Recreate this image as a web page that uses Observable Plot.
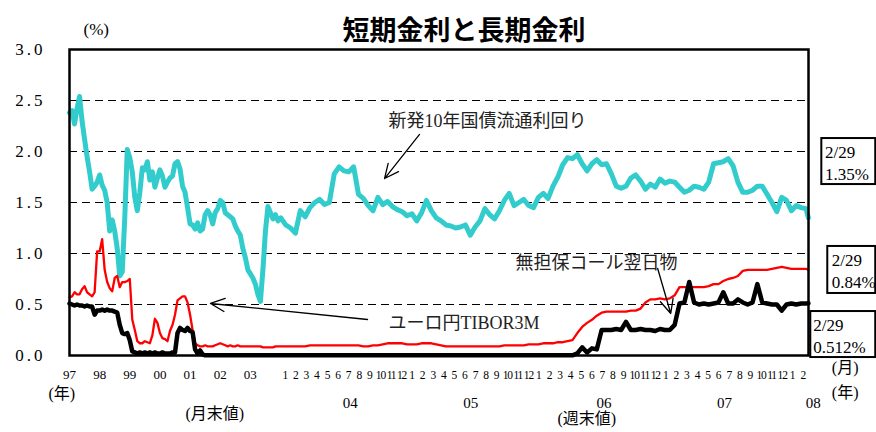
<!DOCTYPE html>
<html><head><meta charset="utf-8">
<script src="https://cdn.jsdelivr.net/npm/d3@7"></script>
<script src="https://cdn.jsdelivr.net/npm/@observablehq/plot@0.6"></script>
<style>body{margin:0;background:#fff}</style>
</head><body><div id="chart"></div>
<script>
// ---- Month-end values, Jan 1997 .. Dec 2003 (%) ----
const monthlyJGB = [
2.38,2.40,2.27,2.42,2.54,2.30,2.12,1.95,1.80,1.63,
1.66,1.70,1.77,1.67,1.62,1.50,1.22,1.33,1.22,1.05,
0.78,0.82,1.35,2.02,1.94,1.80,1.55,1.42,1.60,1.84,
1.82,1.90,1.72,1.80,1.65,1.74,1.82,1.76,1.65,1.70,
1.74,1.76,1.88,1.90,1.83,1.66,1.60,1.45,1.29,1.28,
1.24,1.30,1.22,1.24,1.38,1.42,1.38,1.29,1.40,1.44,
1.52,1.50,1.40,1.38,1.36,1.34,1.27,1.22,1.18,1.05,
0.96,0.84,0.80,0.76,0.70,0.60,0.53,0.84,1.22,1.46,
1.40,1.34,1.38,1.32];
const monthlyTIBOR = [
0.57,0.58,0.62,0.60,0.60,0.65,0.68,0.62,0.60,0.58,
0.62,1.02,1.02,1.14,0.84,0.72,0.66,0.63,0.76,0.78,
0.67,0.72,0.72,0.73,0.75,0.35,0.25,0.14,0.12,0.12,
0.14,0.13,0.12,0.20,0.36,0.32,0.22,0.17,0.16,0.14,
0.24,0.30,0.40,0.54,0.56,0.58,0.58,0.52,0.40,0.25,
0.12,0.10,0.09,0.09,0.10,0.09,0.09,0.09,0.10,0.11,
0.12,0.11,0.10,0.09,0.10,0.09,0.09,0.10,0.09,0.09,
0.09,0.09,0.09,0.09,0.09,0.09,0.09,0.08,0.08,0.08,
0.08,0.08,0.09,0.09];
const monthlyCall = [
0.51,0.50,0.49,0.50,0.49,0.49,0.48,0.49,0.48,0.48,
0.40,0.44,0.44,0.45,0.44,0.45,0.44,0.44,0.43,0.42,
0.30,0.22,0.21,0.22,0.15,0.04,0.03,0.02,0.03,0.02,
0.03,0.02,0.03,0.02,0.03,0.02,0.02,0.03,0.02,0.02,
0.02,0.03,0.03,0.22,0.27,0.25,0.24,0.27,0.24,0.23,
0.06,0.02,0.05,0.01,0.002,0.002,0.002,0.002,0.002,0.002,
0.002,0.002,0.002,0.002,0.002,0.002,0.002,0.002,0.002,0.002,
0.002,0.002,0.002,0.002,0.002,0.002,0.002,0.002,0.002,0.002,
0.002,0.002,0.002,0.002];

// ---- Week-end values every two weeks from 2 Jan 2004, last value 29 Feb 2008 (%) ----
const weeklyJGB = [
1.35,1.28,1.25,1.20,1.42,1.36,1.45,1.50,1.53,1.48,
1.50,1.78,1.85,1.81,1.80,1.85,1.58,1.54,1.47,1.42,
1.55,1.48,1.51,1.46,1.43,1.41,1.37,1.39,1.32,1.40,
1.52,1.42,1.35,1.32,1.28,1.27,1.25,1.26,1.28,1.18,
1.26,1.32,1.44,1.38,1.34,1.42,1.52,1.59,1.47,1.50,
1.53,1.47,1.45,1.55,1.59,1.54,1.66,1.75,1.87,1.94,
1.93,1.97,1.88,1.81,1.88,1.92,1.87,1.88,1.78,1.66,
1.64,1.66,1.74,1.77,1.71,1.63,1.68,1.65,1.73,1.69,
1.71,1.70,1.65,1.60,1.62,1.66,1.65,1.63,1.70,1.88,
1.89,1.90,1.93,1.86,1.70,1.60,1.60,1.62,1.66,1.66,
1.58,1.50,1.41,1.55,1.52,1.42,1.47,1.45,1.44,
1.35];
const weeklyTIBOR = [
0.09,0.09,0.09,0.09,0.09,0.09,0.10,0.10,0.10,0.10,
0.10,0.10,0.10,0.10,0.10,0.10,0.10,0.09,0.09,0.10,
0.10,0.11,0.12,0.12,0.12,0.12,0.11,0.11,0.11,0.12,
0.12,0.12,0.11,0.10,0.09,0.09,0.09,0.09,0.09,0.09,
0.09,0.09,0.09,0.09,0.09,0.09,0.10,0.10,0.10,0.10,
0.10,0.11,0.11,0.11,0.12,0.12,0.12,0.13,0.13,0.14,
0.15,0.22,0.28,0.32,0.35,0.39,0.42,0.43,0.43,0.43,
0.43,0.43,0.44,0.44,0.46,0.52,0.55,0.55,0.56,0.55,
0.56,0.59,0.67,0.67,0.67,0.67,0.67,0.67,0.68,0.70,
0.70,0.73,0.75,0.76,0.78,0.83,0.84,0.84,0.84,0.84,
0.84,0.85,0.86,0.87,0.86,0.85,0.85,0.85,0.85,
0.84];
const weeklyCall = [
0.002,0.002,0.002,0.002,0.002,0.002,0.002,0.002,0.002,0.002,
0.002,0.002,0.002,0.002,0.002,0.002,0.002,0.002,0.002,0.002,
0.002,0.002,0.002,0.002,0.002,0.002,0.002,0.002,0.002,0.002,
0.002,0.002,0.002,0.002,0.002,0.002,0.002,0.002,0.002,0.002,
0.002,0.002,0.002,0.002,0.002,0.002,0.002,0.002,0.002,0.002,
0.002,0.002,0.002,0.002,0.002,0.002,0.002,0.002,0.002,0.002,
0.002,0.02,0.08,0.03,0.07,0.06,0.25,0.25,0.25,0.26,
0.25,0.33,0.25,0.25,0.26,0.25,0.25,0.24,0.26,0.25,
0.25,0.30,0.51,0.52,0.72,0.52,0.50,0.51,0.50,0.51,
0.52,0.62,0.51,0.51,0.55,0.52,0.50,0.52,0.70,0.52,
0.51,0.50,0.50,0.44,0.50,0.51,0.50,0.51,0.51,
0.512];

// ---- Tick labels ----
const yTickValues = [0, 0.5, 1.0, 1.5, 2.0, 2.5, 3.0];
const gridValues = [0.5, 1.0, 1.5, 2.0, 2.5];
const monthlyYearLabels = ["97","98","99","00","01","02","03"];
const monthLabels = ["1","2","3","4","5","6","7","8","9","10","11","12"];
const weeklyYears = [2004, 2005, 2006, 2007, 2008];
const weeklyYearLabels = ["04","05","06","07","08"];
const weeklyYearPos = [2004.55, 2005.5, 2006.55, 2007.5, 2008.2];

// ---- Annotations ----
const seriesLabels = [
  {t: 2004.852, v: 2.294, text: "新発10年国債流通利回り"},
  {t: 2004.852, v: 0.314, text: "ユーロ円TIBOR3M"},
  {t: 2005.853, v: 0.902, text: "無担保コール翌日物"}
];
const arrows = [
  {x1: 2005.096, y1: 2.167, x2: 2004.820, y2: 1.735},
  {x1: 2004.686, y1: 0.353, x2: 2001.678, y2: 0.510},
  {x1: 2006.973, y1: 0.853, x2: 2007.076, y2: 0.412}
];
const lastBoxes = [
  {x1: 2008.267, x2: 2008.692, y1: 2.127, y2: 1.676, tx: 2008.292, label: "2/29\n1.35%"},
  {x1: 2008.314, x2: 2008.692, y1: 1.069, y2: 0.608, tx: 2008.345, label: "2/29\n0.84%"},
  {x1: 2008.180, x2: 2008.692, y1: 0.431, y2: -0.020, tx: 2008.200, label: "2/29\n0.512%"}
];

// ---- Build series ----
const weekStart = Date.UTC(2004, 0, 2);
const lastDay = Date.UTC(2008, 1, 29);
function yearFrac(ms) {
  const y = new Date(ms).getUTCFullYear();
  const s = Date.UTC(y, 0, 1), e = Date.UTC(y + 1, 0, 1);
  return y + (ms - s) / (e - s);
}
function build(monthly, weekly) {
  const out = monthly.map((v, i) => ({t: 1997 + i / 12, v}));
  weekly.forEach((v, k) => {
    const ms = k === weekly.length - 1 ? lastDay : weekStart + k * 14 * 86400000;
    out.push({t: yearFrac(ms), v});
  });
  return out;
}
const jgb = build(monthlyJGB, weeklyJGB);
const tibor = build(monthlyTIBOR, weeklyTIBOR);
const call = build(monthlyCall, weeklyCall);

const monthTicks = weeklyYears.flatMap(y =>
  monthLabels.slice(0, y === 2008 ? 2 : 12).map((m, i) => ({t: y + (i + 0.45) / 12, label: m})));

const serif = "'Liberation Serif', 'Noto Sans CJK JP', serif";
const jp = "'Liberation Serif', 'Noto Sans CJK JP', sans-serif";

const chart = Plot.plot({
  width: 876, height: 432,
  marginLeft: 69, marginRight: 68, marginTop: 49, marginBottom: 77,
  style: {fontFamily: serif, background: "#fff", overflow: "visible"},
  x: {type: "linear", domain: [1997, 2004, 2008.162], range: [69, 280, 808], axis: null},
  y: {domain: [0, 3], axis: null},
  marks: [
    Plot.ruleY(gridValues, {stroke: "#000", strokeWidth: 1, strokeDasharray: "8,5"}),
    Plot.line(jgb, {x: "t", y: "v", stroke: "#33CCCC", strokeWidth: 5}),
    Plot.line(tibor, {x: "t", y: "v", stroke: "#FF0000", strokeWidth: 2.3}),
    Plot.line(call, {x: "t", y: "v", stroke: "#000", strokeWidth: 4.5}),
    Plot.frame({stroke: "#000", strokeWidth: 2.5}),
    // y tick labels
    Plot.text(yTickValues, {y: d => d, text: d => d.toFixed(1), frameAnchor: "left", dx: -24, textAnchor: "end", fontSize: 17, fill: "#000"}),
    Plot.text(["(%)"], {text: d => d, frameAnchor: "top-left", dx: 14, dy: -27, fontSize: 17}),
    // title
    Plot.text(["短期金利と長期金利"], {text: d => d, frameAnchor: "top", dx: 25, dy: -29, fontSize: 27, fontWeight: "bold", fontFamily: "'Noto Sans CJK JP', sans-serif"}),
    // x labels
    Plot.text(monthlyYearLabels, {x: (d, i) => 1997 + i, text: d => d, frameAnchor: "bottom", dy: 23, fontSize: 13}),
    Plot.text(monthTicks, {x: "t", text: "label", frameAnchor: "bottom", dy: 23, fontSize: 11.5}),
    Plot.text(weeklyYearLabels, {x: (d, i) => weeklyYearPos[i], text: d => d, frameAnchor: "bottom", dy: 52, fontSize: 15}),
    Plot.text(["(年)"], {text: d => d, frameAnchor: "bottom-left", dx: -21, dy: 43, fontSize: 16, fontFamily: jp}),
    Plot.text(["(月末値)"], {text: d => d, frameAnchor: "bottom-left", dx: 116, dy: 63, fontSize: 16, fontFamily: jp}),
    Plot.text(["(週末値)"], {text: d => d, frameAnchor: "bottom-left", dx: 488, dy: 68, fontSize: 16, fontFamily: jp}),
    Plot.text(["(月)"], {text: d => d, frameAnchor: "bottom-right", dx: 50, dy: 17, fontSize: 16, fontFamily: jp}),
    Plot.text(["(年)"], {text: d => d, frameAnchor: "bottom-right", dx: 50, dy: 42, fontSize: 16, fontFamily: jp}),
    // series annotations
    Plot.text(seriesLabels, {x: "t", y: "v", text: "text", textAnchor: "start", fontSize: 18, fill: "#222", fontFamily: jp}),
    Plot.arrow(arrows, {x1: "x1", y1: "y1", x2: "x2", y2: "y2", stroke: "#000", strokeWidth: 1.3, headLength: 18, headAngle: 50}),
    // latest value boxes
    Plot.rect(lastBoxes, {x1: "x1", x2: "x2", y1: "y1", y2: "y2", fill: "#fff", stroke: "#000", strokeWidth: 2}),
    Plot.text(lastBoxes, {x: "tx", y: d => (d.y1 + d.y2) / 2, text: "label", textAnchor: "start", lineAnchor: "middle", lineHeight: 1.3, fontSize: 17})
  ]
});
chart.querySelectorAll("text").forEach(t => {
  if (/^\d\.\d$/.test(t.textContent)) t.setAttribute("letter-spacing", "3");
  if (/^1[0-2]$/.test(t.textContent)) t.setAttribute("letter-spacing", "-1.2");
});
document.getElementById("chart").appendChild(chart);
</script>
</body></html>
